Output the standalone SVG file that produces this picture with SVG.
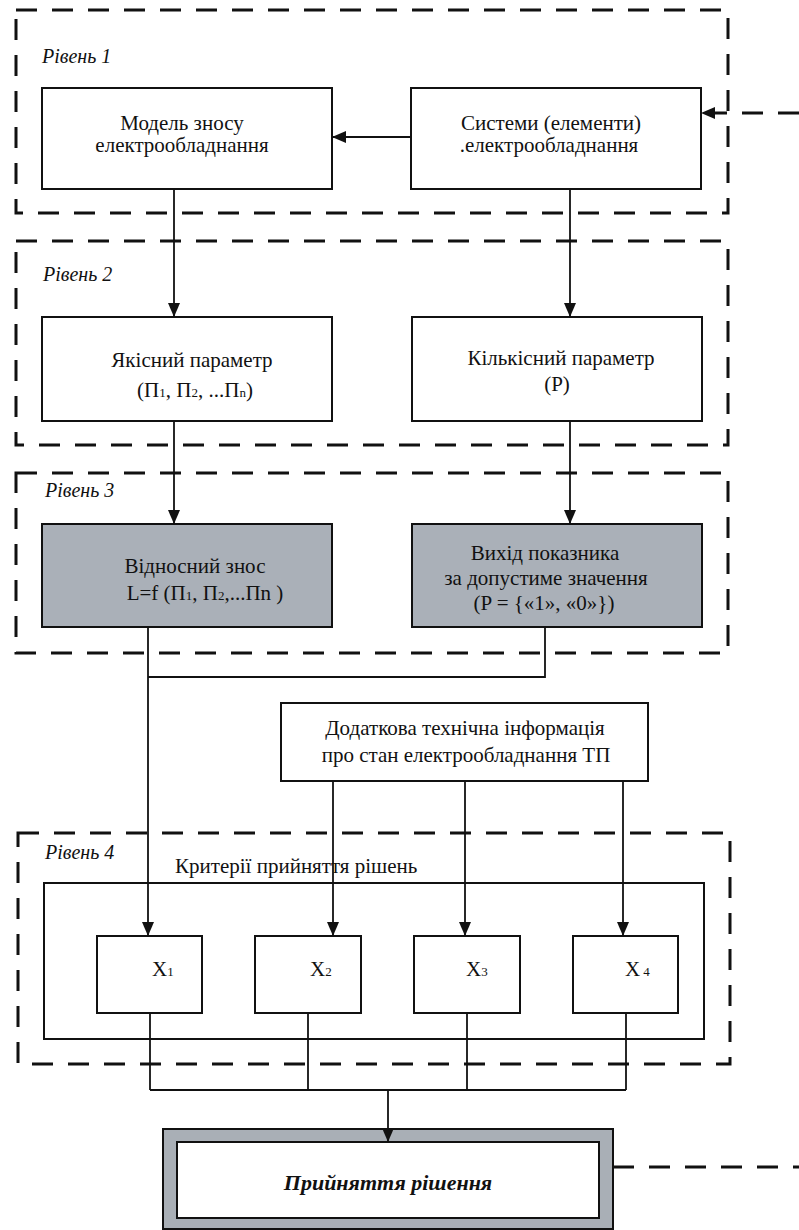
<svg xmlns="http://www.w3.org/2000/svg" width="799" height="1230" viewBox="0 0 799 1230">
<defs>
<marker id="ah" markerWidth="14" markerHeight="12" refX="14" refY="6" orient="auto" markerUnits="userSpaceOnUse"><path d="M0,0 L14,6 L0,12 Z" fill="#111"/></marker>
</defs>
<style>
.t{font-family:"Liberation Serif","Times New Roman",serif;font-size:21px;fill:#111;text-anchor:middle}
.lv{font-family:"Liberation Serif","Times New Roman",serif;font-size:20px;font-style:italic;fill:#111}
.lvl{fill:none;stroke:#111;stroke-width:3;stroke-dasharray:21 15}
.box{fill:#fff;stroke:#111;stroke-width:2}
.grey{fill:#aab0b8;stroke:#111;stroke-width:2}
.c{fill:none;stroke:#111;stroke-width:1.8}
.a{marker-end:url(#ah)}
.sub{font-size:13px}
</style>
<rect width="799" height="1230" fill="#fff"/>

<g id="level1">
<rect class="lvl" x="16" y="10" width="712" height="203"/>
<text class="lv" x="42" y="63">Рівень 1</text>
</g>
<g id="level2">
<rect class="lvl" x="16" y="241" width="712" height="204"/>
<text class="lv" x="43" y="281">Рівень 2</text>
</g>
<g id="level3">
<rect class="lvl" x="16" y="473" width="712" height="180"/>
<text class="lv" x="45" y="497">Рівень 3</text>
</g>
<g id="level4">
<rect class="lvl" x="18" y="833" width="712" height="231"/>
<text class="lv" x="45" y="859">Рівень 4</text>
</g>

<g id="model">
<rect class="box" x="42" y="88" width="290" height="101"/>
<text class="t" x="182" y="130">Модель зносу</text>
<text class="t" x="182" y="152">електрообладнання</text>
</g>
<g id="systems">
<rect class="box" x="411" y="88" width="290" height="101"/>
<text class="t" x="551" y="130">Системи (елементи)</text>
<text class="t" x="549" y="152">.електрообладнання</text>
</g>
<g id="qual">
<rect class="box" x="42" y="317" width="290" height="104"/>
<text class="t" x="192" y="367">Якісний параметр</text>
<text class="t" x="195" y="397">(П<tspan class="sub">1</tspan>, П<tspan class="sub">2</tspan>, ...П<tspan class="sub">n</tspan>)</text>
</g>
<g id="quant">
<rect class="box" x="412" y="317" width="290" height="104"/>
<text class="t" x="561" y="365">Кількісний параметр</text>
<text class="t" x="557" y="391">(P)</text>
</g>
<g id="relwear">
<rect class="grey" x="42" y="524" width="290" height="103"/>
<text class="t" x="195" y="573">Відносний знос</text>
<text class="t" x="205" y="600">L=f (П<tspan class="sub">1</tspan>, П<tspan class="sub">2</tspan>,...Пn )</text>
</g>
<g id="exit">
<rect class="grey" x="412" y="524" width="290" height="103"/>
<text class="t" x="545" y="560">Вихід показника</text>
<text class="t" x="546" y="585">за допустиме значення</text>
<text class="t" x="544" y="610">(P = {«1», «0»})</text>
</g>
<g id="extra">
<rect class="box" x="281" y="703" width="367" height="78"/>
<text class="t" x="465" y="735">Додаткова технічна інформація</text>
<text class="t" x="466" y="762">про стан електрообладнання ТП</text>
</g>
<g id="criteria">
<rect class="box" x="44" y="883" width="660" height="156"/>
<text class="t" x="175" y="873" style="text-anchor:start">Критерії прийняття рішень</text>
</g>
<g id="x1">
<rect class="box" x="97" y="936" width="105" height="77"/>
<text class="t" x="152" y="976" style="text-anchor:start">X<tspan class="sub">1</tspan></text>
</g>
<g id="x2">
<rect class="box" x="255" y="936" width="106" height="77"/>
<text class="t" x="310" y="976" style="text-anchor:start">X<tspan class="sub">2</tspan></text>
</g>
<g id="x3">
<rect class="box" x="414" y="936" width="106" height="77"/>
<text class="t" x="466" y="976" style="text-anchor:start">X<tspan class="sub">3</tspan></text>
</g>
<g id="x4">
<rect class="box" x="573" y="936" width="105" height="77"/>
<text class="t" x="625" y="976" style="text-anchor:start">X<tspan class="sub" dx="3">4</tspan></text>
</g>
<g id="decision">
<rect x="163" y="1129" width="450" height="100" fill="#a9afb6" stroke="#111" stroke-width="2"/>
<rect class="box" x="177" y="1142" width="422" height="76"/>
<text class="t" x="388" y="1190" style="font-size:22px;font-style:italic;font-weight:bold">Прийняття рішення</text>
</g>

<g id="connectors">
<path class="c a" d="M411,137 H332"/>
<path class="lvl a" d="M799,113 H701"/>
<path class="c a" d="M174,189 V317"/>
<path class="c a" d="M570,189 V317"/>
<path class="c a" d="M174,421 V524"/>
<path class="c a" d="M570,421 V524"/>
<path class="c a" d="M148,627 V936"/>
<path class="c" d="M545,627 V677 H148"/>
<path class="c a" d="M333,781 V936"/>
<path class="c a" d="M465,781 V936"/>
<path class="c a" d="M623,781 V936"/>
<path class="c" d="M150,1013 V1090"/>
<path class="c" d="M308,1013 V1090"/>
<path class="c" d="M467,1013 V1090"/>
<path class="c" d="M626,1013 V1090"/>
<path class="c" d="M150,1090 H626"/>
<path class="c a" d="M388,1090 V1142"/>
<path class="lvl" d="M613,1167 H799"/>
</g>
</svg>
